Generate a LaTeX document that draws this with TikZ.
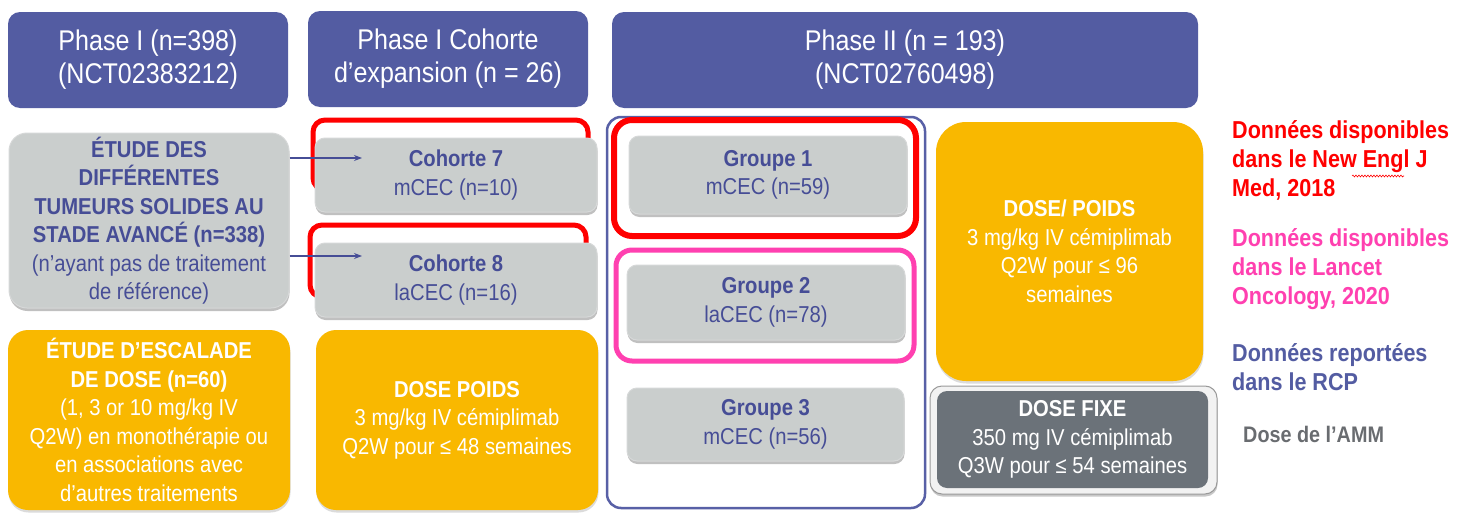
\documentclass[tikz,border=0pt]{standalone}
\usepackage{fontspec}
\setmainfont{Liberation Sans}[FakeStretch=0.88]
\usetikzlibrary{shadows,arrows.meta,decorations.pathmorphing}
\definecolor{hdr}{RGB}{83,92,162}
\definecolor{tblue}{RGB}{70,77,150}
\definecolor{gbox}{RGB}{202,206,205}
\definecolor{gboxedge}{RGB}{214,216,216}
\definecolor{ybox}{RGB}{249,184,0}
\definecolor{dgray}{RGB}{107,114,121}
\definecolor{redf}{RGB}{255,0,0}
\definecolor{pinkf}{RGB}{255,64,176}
\definecolor{frameblue}{RGB}{88,96,166}
\definecolor{amm}{RGB}{105,108,112}
\newcommand{\hdrfont}{\fontsize{28.5}{33}\selectfont}
\newcommand{\boxfont}{\fontsize{23}{28.5}\selectfont}
\newcommand{\legfont}{\fontsize{24.5}{29}\selectfont}
\begin{document}
\begin{tikzpicture}[x=1pt,y=-1pt,
  hdrbox/.style={fill=hdr, rounded corners=12pt, text=white, font=\hdrfont, align=center, inner sep=0pt},
  graybox/.style={fill=gbox, draw=gboxedge, line width=1pt, rounded corners=10pt, text=tblue, font=\boxfont, align=center, inner sep=0pt,
     drop shadow={shadow xshift=0.5pt, shadow yshift=-3pt, opacity=0.35, fill=black!70}},
  yelbox/.style={fill=ybox, rounded corners=20pt, text=white, font=\boxfont, align=center, inner sep=0pt,
     drop shadow={shadow xshift=0.5pt, shadow yshift=-2.5pt, opacity=0.2, fill=black!70}},
  redframe/.style={draw=redf, line width=5pt, rounded corners=12pt, inner sep=0pt},
  pinkframe/.style={draw=pinkf, line width=5pt, rounded corners=16pt, inner sep=0pt},
  legend/.style={anchor=west, align=left, inner sep=0pt, font=\legfont\bfseries},
  link/.style={draw=tblue, line width=1.1pt, -{Stealth[length=8pt,width=6pt]}}
]
\useasboundingbox (0,0) rectangle (1464,514);
\fill[white] (0,0) rectangle (1464,514);

% headers
\node[hdrbox, minimum width=280pt, minimum height=96pt] (h1) at (148,60) {Phase I (n=398)\\(NCT02383212)};
\node[hdrbox, minimum width=280pt, minimum height=96pt] (h2) at (448,59) {Phase I Cohorte\\d’expansion (n = 26)};
\node[hdrbox, minimum width=586pt, minimum height=96pt] (h3) at (905,60) {Phase II (n = 193)\\(NCT02760498)};

% left column
\node[graybox, rounded corners=18pt, minimum width=280pt, minimum height=175pt] (etude) at (149,220.5)
  {\textbf{ÉTUDE DES}\\\textbf{DIFFÉRENTES}\\\textbf{TUMEURS SOLIDES AU}\\\textbf{STADE AVANCÉ (n=338)}\\(n’ayant pas de traitement\\de référence)};
\node[yelbox, minimum width=282pt, minimum height=180pt] (escal) at (149,420)
  {\textbf{ÉTUDE D’ESCALADE}\\\textbf{DE DOSE (n=60)}\\(1, 3 or 10 mg/kg IV\\Q2W) en monothérapie ou\\en associations avec\\d’autres traitements};

% cohort column
\node[redframe, minimum width=275pt, minimum height=70pt] (r7) at (450.5,155) {};
\node[graybox, minimum width=282pt, minimum height=74pt] (c7) at (456,175) {\textbf{Cohorte 7}\\mCEC (n=10)};
\node[redframe, minimum width=276pt, minimum height=72pt] (r8) at (448,261) {};
\node[graybox, minimum width=282pt, minimum height=74pt] (c8) at (456,280) {\textbf{Cohorte 8}\\laCEC (n=16)};
\node[yelbox, minimum width=282pt, minimum height=180pt] (dp) at (457,420)
  {\textbf{DOSE POIDS}\\3 mg/kg IV cémiplimab\\Q2W pour ≤ 48 semaines};

% phase II column
\node[draw=frameblue, line width=2.5pt, rounded corners=14pt, minimum width=318pt, minimum height=391pt, inner sep=0pt] (p2) at (766,312.5) {};
\node[redframe, line width=6pt, rounded corners=18pt, minimum width=302pt, minimum height=116pt] (rg1) at (765,178) {};
\node[graybox, minimum width=278pt, minimum height=78pt] (g1) at (768,175) {\textbf{Groupe 1}\\mCEC (n=59)};
\node[pinkframe, minimum width=298pt, minimum height=111pt] (pg2) at (765,305.5) {};
\node[graybox, minimum width=278pt, minimum height=75pt] (g2) at (766,302.5) {\textbf{Groupe 2}\\laCEC (n=78)};
\node[graybox, minimum width=277pt, minimum height=73pt] (g3) at (765.5,424.5) {\textbf{Groupe 3}\\mCEC (n=56)};

% dose column
\node[yelbox, rounded corners=30pt, minimum width=267pt, minimum height=259pt] (dpw) at (1069.5,251.5)
  {\textbf{DOSE/ POIDS}\\3 mg/kg IV cémiplimab\\Q2W pour ≤ 96\\semaines};
\node[fill=black!5, draw=black!40, line width=1pt, rounded corners=12pt, minimum width=287pt, minimum height=108pt, inner sep=0pt,
  drop shadow={shadow xshift=0.5pt, shadow yshift=-2.5pt, opacity=0.3, fill=black!70}] (dfo) at (1073.5,440) {};
\node[fill=dgray, rounded corners=10pt, minimum width=271pt, minimum height=97pt, inner sep=0pt, text=white, font=\boxfont, align=center] (df) at (1072.5,439.5)
  {\textbf{DOSE FIXE}\\350 mg IV cémiplimab\\Q3W pour ≤ 54 semaines};

% arrows
\coordinate (a7) at (362,158);
\coordinate (a8) at (362,256);
\draw[link] (etude.east |- a7) -- (a7);
\draw[link] (etude.east |- a8) -- (a8);

% legend
\node[legend, text=redf] (l1) at (1232,160) {Données disponibles\\dans le New Engl J\\Med, 2018};
\draw[redf, line width=0.6pt, decorate, decoration={snake, amplitude=0.9pt, segment length=3pt}] (1352,176) -- (1404,176);
\node[legend, text=pinkf] (l2) at (1232,269) {Données disponibles\\dans le Lancet\\Oncology, 2020};
\node[legend, text=hdr] (l3) at (1232,367) {Données reportées\\dans le RCP};
\node[legend, text=amm, font=\fontsize{22.5}{26}\selectfont\bfseries] (l4) at (1243,434) {Dose de l’AMM};
\end{tikzpicture}
\end{document}
